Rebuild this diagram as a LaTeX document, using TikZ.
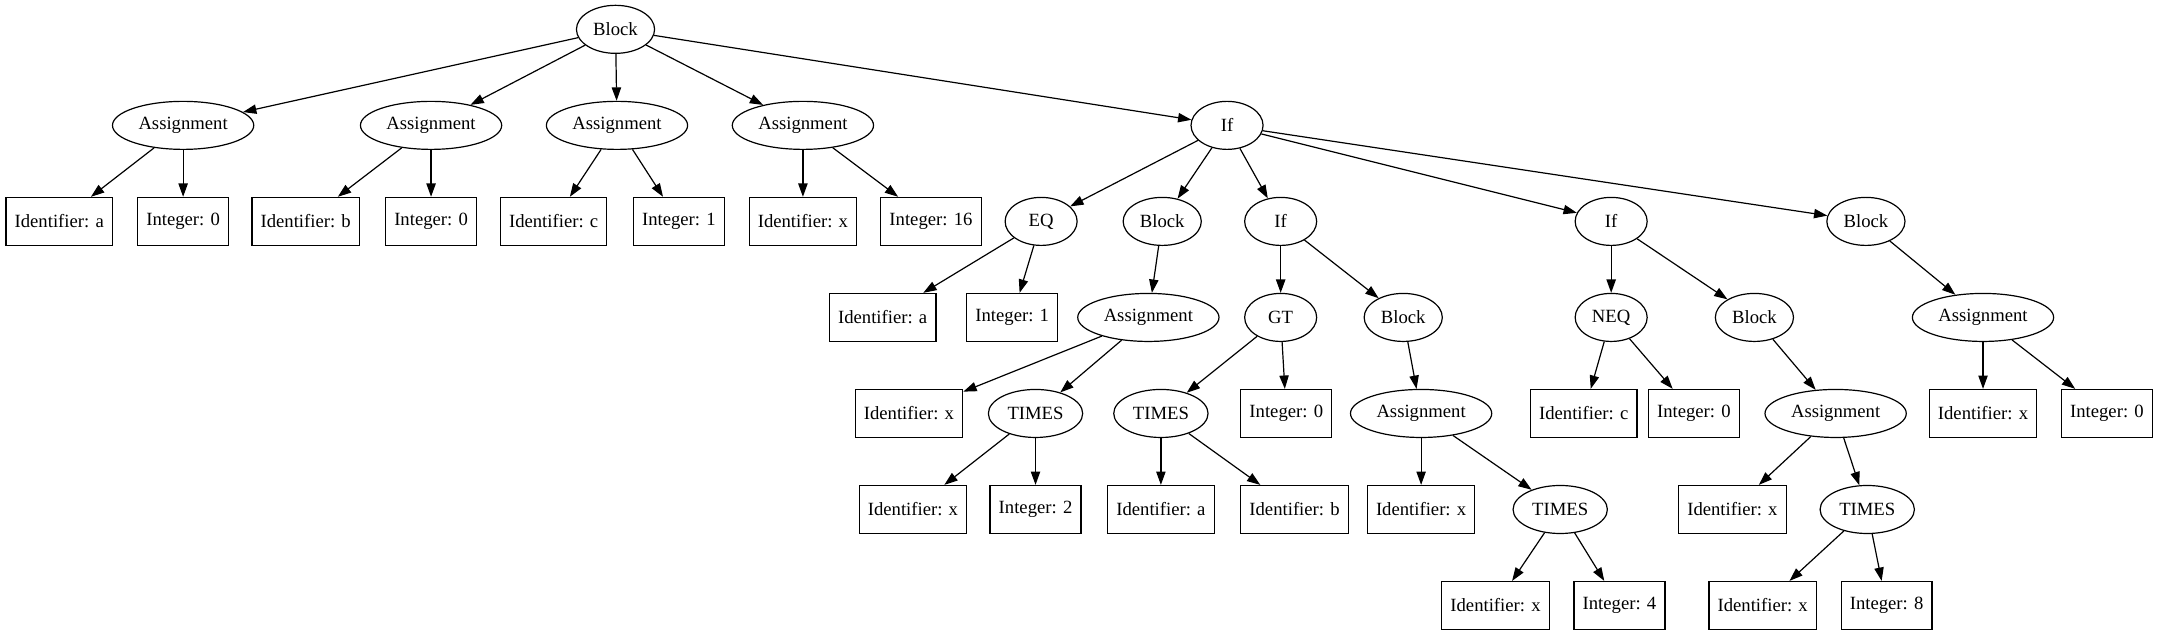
\documentclass[tikz,border=0pt]{standalone}
\usepackage{fontspec}
\setmainfont{Liberation Serif}
\usetikzlibrary{arrows.meta,shapes.geometric}
\tikzset{
  every node/.style={font=\fontsize{14}{16}\selectfont},
  ell/.style={draw,ellipse,line width=0.9pt,inner xsep=4pt,inner ysep=2pt,minimum height=36pt,minimum width=54pt},
  box/.style={draw,rectangle,line width=0.9pt,inner xsep=6.5pt,minimum height=36pt,minimum width=54pt},
  edge/.style={-{Triangle[length=10pt,width=7pt]},line width=0.9pt}
}
\begin{document}
\begin{tikzpicture}[x=1pt,y=-1pt]
\useasboundingbox (0,0) rectangle (1618,476);
% row 0
\node[ell] (root) at (461.5,22) {Block};
% row 1
\node[ell] (a1) at (137.3,94) {Assignment};
\node[ell] (a2) at (323.2,94) {Assignment};
\node[ell] (a3) at (462.6,94) {Assignment};
\node[ell] (a4) at (602,94) {Assignment};
\node[ell] (if1) at (920,94) {If};
% row 2
\node[box] (a1i) at (44.4,166) {Identifier: a};
\node[box] (a1v) at (137.3,166) {Integer: 0};
\node[box] (a2i) at (229.2,166) {Identifier: b};
\node[box] (a2v) at (323.2,166) {Integer: 0};
\node[box] (a3i) at (415.1,166) {Identifier: c};
\node[box] (a3v) at (509,166) {Integer: 1};
\node[box] (a4i) at (602,166) {Identifier: x};
\node[box] (a4v) at (698,166) {Integer: 16};
\node[ell] (eq) at (780.6,166) {EQ};
\node[ell] (b1) at (871.4,166) {Block};
\node[ell] (if2) at (960.2,166) {If};
\node[ell] (if3) at (1208,166) {If};
\node[ell] (b4) at (1399,166) {Block};
% row 3
\node[box] (eqi) at (661.8,238) {Identifier: a};
\node[box] (eqv) at (758.9,238) {Integer: 1};
\node[ell] (b1a) at (861,238) {Assignment};
\node[ell] (gt) at (960.2,238) {GT};
\node[ell] (b2) at (1052.1,238) {Block};
\node[ell] (neq) at (1208,238) {NEQ};
\node[ell] (b3) at (1315.4,238) {Block};
\node[ell] (b4a) at (1486.8,238) {Assignment};
% row 4
\node[box] (b1ai) at (681.5,310) {Identifier: x};
\node[ell] (t1) at (776.4,310) {TIMES};
\node[ell] (t2) at (870.4,310) {TIMES};
\node[box] (gtv) at (964.4,310) {Integer: 0};
\node[ell] (b2a) at (1065.5,310) {Assignment};
\node[box] (neqi) at (1187.4,310) {Identifier: c};
\node[box] (neqv) at (1270,310) {Integer: 0};
\node[ell] (b3a) at (1376.3,310) {Assignment};
\node[box] (b4ai) at (1486.8,310) {Identifier: x};
\node[box] (b4av) at (1579.7,310) {Integer: 0};
% row 5
\node[box] (t1i) at (684.5,382) {Identifier: x};
\node[box] (t1v) at (776.4,382) {Integer: 2};
\node[box] (t2i) at (870.4,382) {Identifier: a};
\node[box] (t2v) at (970.6,382) {Identifier: b};
\node[box] (b2ai) at (1065.5,382) {Identifier: x};
\node[ell] (t3) at (1169.8,382) {TIMES};
\node[box] (b3ai) at (1298.9,382) {Identifier: x};
\node[ell] (t4) at (1400,382) {TIMES};
% row 6
\node[box] (t3i) at (1121.3,454) {Identifier: x};
\node[box] (t3v) at (1214.2,454) {Integer: 4};
\node[box] (t4i) at (1321.6,454) {Identifier: x};
\node[box] (t4v) at (1414.5,454) {Integer: 8};
% edges
\foreach \s/\t in {root/a1,root/a2,root/a3,root/a4,root/if1,
  a1/a1i,a1/a1v,a2/a2i,a2/a2v,a3/a3i,a3/a3v,a4/a4i,a4/a4v,
  if1/eq,if1/b1,if1/if2,if1/if3,if1/b4,
  eq/eqi,eq/eqv,b1/b1a,b1a/b1ai,b1a/t1,t1/t1i,t1/t1v,
  if2/gt,if2/b2,gt/t2,gt/gtv,t2/t2i,t2/t2v,b2/b2a,b2a/b2ai,b2a/t3,t3/t3i,t3/t3v,
  if3/neq,if3/b3,neq/neqi,neq/neqv,b3/b3a,b3a/b3ai,b3a/t4,t4/t4i,t4/t4v,
  b4/b4a,b4a/b4ai,b4a/b4av}
  \draw[edge] (\s) -- (\t);
\end{tikzpicture}
\end{document}
